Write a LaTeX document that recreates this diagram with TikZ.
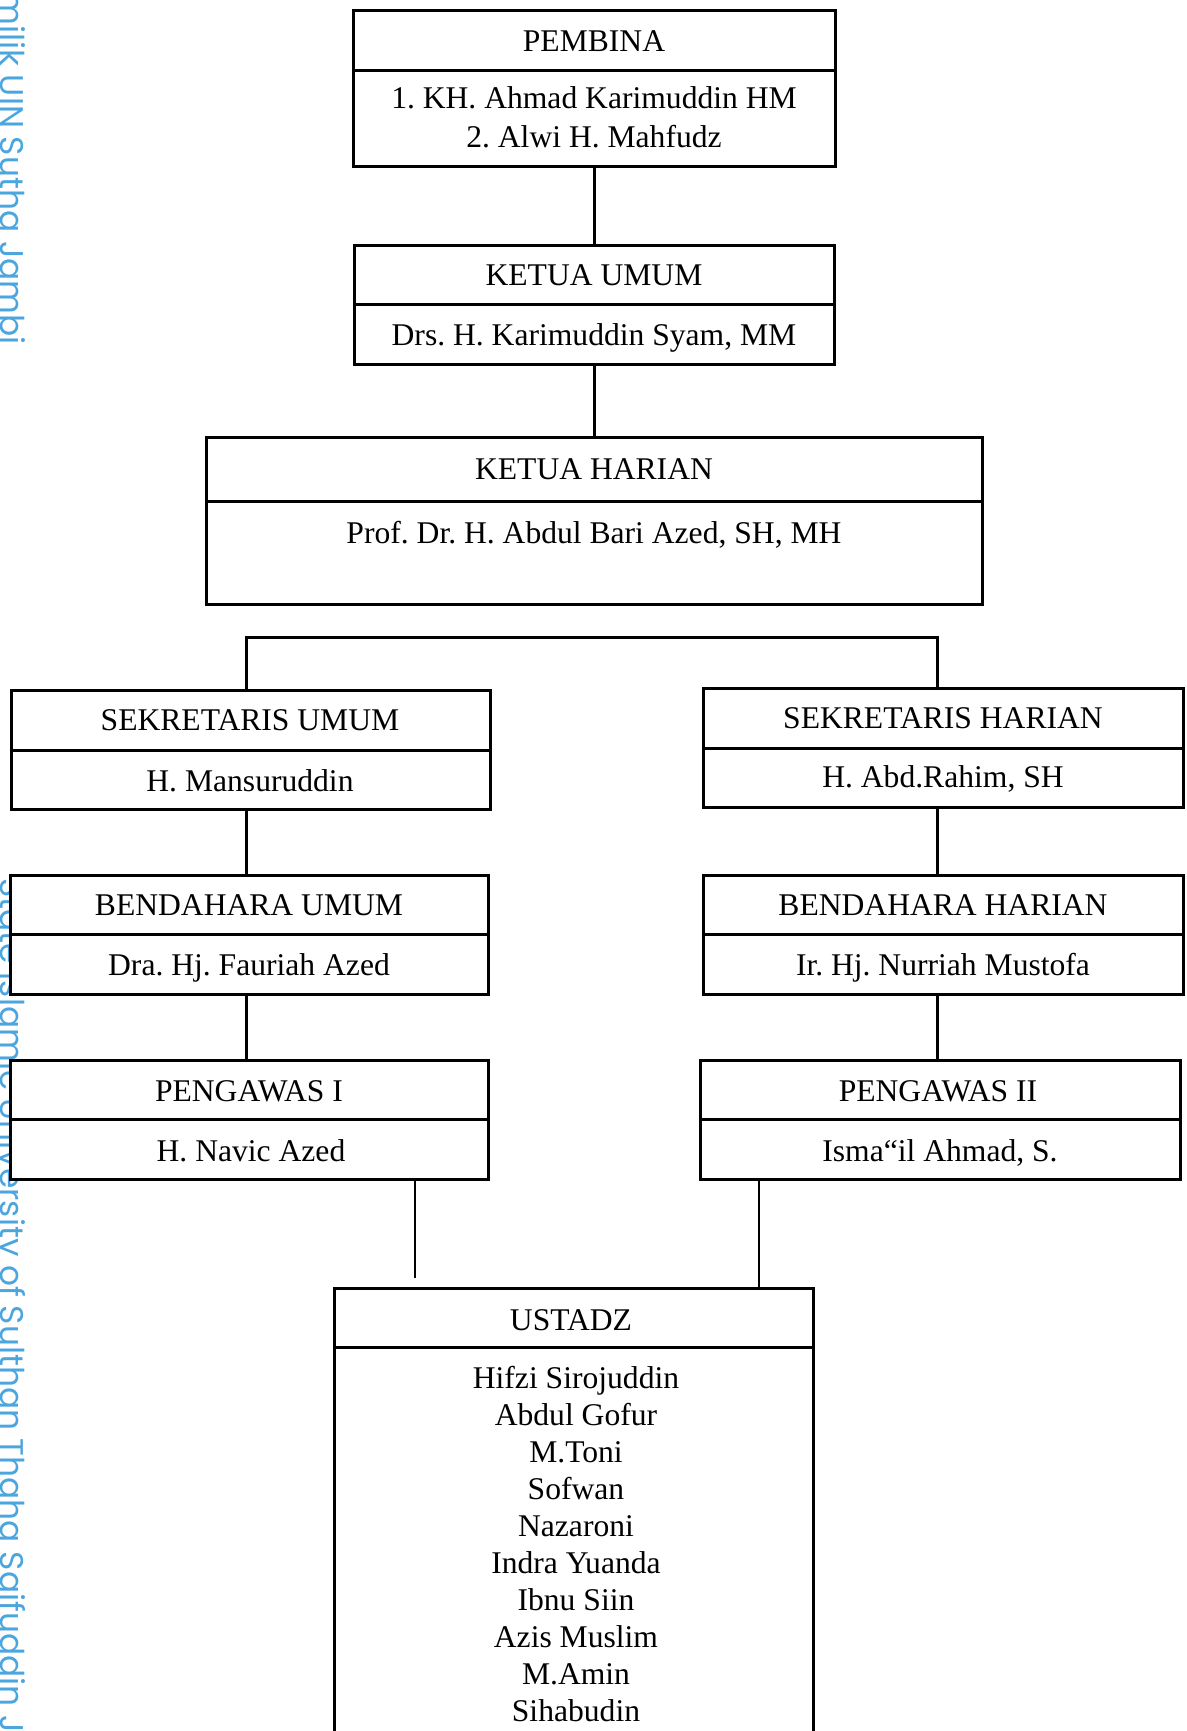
\documentclass[tikz,border=0pt]{standalone}
\usepackage{fontspec}
\setmainfont{Liberation Serif}
\newfontfamily\wmfont{Poppins}
\usetikzlibrary{fit}
\definecolor{wmblue}{RGB}{75,165,222}
\tikzset{
  orgbox/.style={draw=black, line width=1.5pt, fill=white, inner sep=0pt, rectangle},
  orgdiv/.style={draw=black, line width=1.5pt},
  conn/.style={draw=black, line width=1.5pt},
  thinconn/.style={draw=black, line width=1pt},
  lbl/.style={inner sep=0pt, font=\frenchspacing\fontsize{15.8}{18.5}\selectfont, align=center},
  wm/.style={inner sep=0pt, rotate=-90, text=wmblue, font=\wmfont\fontsize{16.4}{16}\selectfont},
}
\newcommand{\orgbx}[6]{%
  \node[orgbox, fit={(#2,#3) (#4,#5)}] (#1) {};
  \draw[orgdiv] (#2,#6) -- (#4,#6);
}
\begin{document}
\begin{tikzpicture}[x=0.5pt, y=-0.5pt]
\useasboundingbox (0,0) rectangle (1187,1731);
\clip (0,0) rectangle (1187,1731);
\fill[white] (0,0) rectangle (1187,1731);

% watermark
\node[wm, anchor=base east] (wm1) at (1,345) {milik UIN Sutha Jambi};
\node[wm, anchor=base west] (wm2) at (1,878) {State Islamic University of Sulthan Thaha Saifuddin Jambi};

% boxes
\orgbx{pembina}{353}{10}{835}{166}{70}
\orgbx{ketum}{354}{245}{834}{364}{304}
\orgbx{kethar}{206}{437}{982}{604}{501}
\orgbx{sekum}{11}{690}{490}{809}{750}
\orgbx{sekhar}{703}{688}{1183}{807}{748}
\orgbx{bendum}{10}{875}{488}{994}{934}
\orgbx{bendhar}{703}{875}{1183}{994}{934}
\orgbx{peng1}{10}{1060}{488}{1179}{1119}
\orgbx{peng2}{700}{1060}{1180}{1179}{1119}
\orgbx{ustadz}{334}{1288}{813}{1800}{1347}

% labels
\node[lbl, anchor=base] (t-pembina) at (594,51) {PEMBINA};
\node[lbl, anchor=base] (n-pembina1) at (594,108) {1. KH. Ahmad Karimuddin HM};
\node[lbl, anchor=base] (n-pembina2) at (594,147) {2. Alwi H. Mahfudz};
\node[lbl, anchor=base] (t-ketum) at (594,285) {KETUA UMUM};
\node[lbl, anchor=base] (n-ketum) at (594,345) {Drs. H. Karimuddin Syam, MM};
\node[lbl, anchor=base] (t-kethar) at (594,479) {KETUA HARIAN};
\node[lbl, anchor=base] (n-kethar) at (594,543) {Prof. Dr. H. Abdul Bari Azed, SH, MH};
\node[lbl, anchor=base] (t-sekum) at (250,730) {SEKRETARIS UMUM};
\node[lbl, anchor=base] (n-sekum) at (250,791) {H. Mansuruddin};
\node[lbl, anchor=base] (t-sekhar) at (943,728) {SEKRETARIS HARIAN};
\node[lbl, anchor=base] (n-sekhar) at (943,787) {H. Abd.Rahim, SH};
\node[lbl, anchor=base] (t-bendum) at (249,915) {BENDAHARA UMUM};
\node[lbl, anchor=base] (n-bendum) at (249,975) {Dra. Hj. Fauriah Azed};
\node[lbl, anchor=base] (t-bendhar) at (943,915) {BENDAHARA HARIAN};
\node[lbl, anchor=base] (n-bendhar) at (943,975) {Ir. Hj. Nurriah Mustofa};
\node[lbl, anchor=base] (t-peng1) at (249,1101) {PENGAWAS I};
\node[lbl, anchor=base] (n-peng1) at (251,1161) {H. Navic Azed};
\node[lbl, anchor=base] (t-peng2) at (938,1101) {PENGAWAS II};
\node[lbl, anchor=base] (n-peng2) at (940,1161) {Isma“il Ahmad, S.};
\node[lbl, anchor=base] (t-ustadz) at (571,1330) {USTADZ};
\node[lbl, anchor=north] (n-ustadz) at (576,1366) {Hifzi Sirojuddin\\Abdul Gofur\\M.Toni\\Sofwan\\Nazaroni\\Indra Yuanda\\Ibnu Siin\\Azis Muslim\\M.Amin\\Sihabudin};

% connectors
\draw[conn] (pembina.south) -- (ketum.north);
\draw[conn] (ketum.south) -- (kethar.north);
\coordinate (brL) at (246,637);
\coordinate (brR) at (937,637);
\draw[conn] (brL |- sekum.north) -- (brL) -- (brR) -- (brR |- sekhar.north);
\draw[conn] (brL |- sekum.south) -- (brL |- bendum.north);
\draw[conn] (brL |- bendum.south) -- (brL |- peng1.north);
\draw[conn] (brR |- sekhar.south) -- (brR |- bendhar.north);
\draw[conn] (brR |- bendhar.south) -- (brR |- peng2.north);
\coordinate (endL) at (415,1278);
\coordinate (colR) at (759,1230);
\draw[thinconn] (endL |- peng1.south) -- (endL);
\draw[thinconn] (colR |- peng2.south) -- (colR |- ustadz.north);
\end{tikzpicture}
\end{document}
